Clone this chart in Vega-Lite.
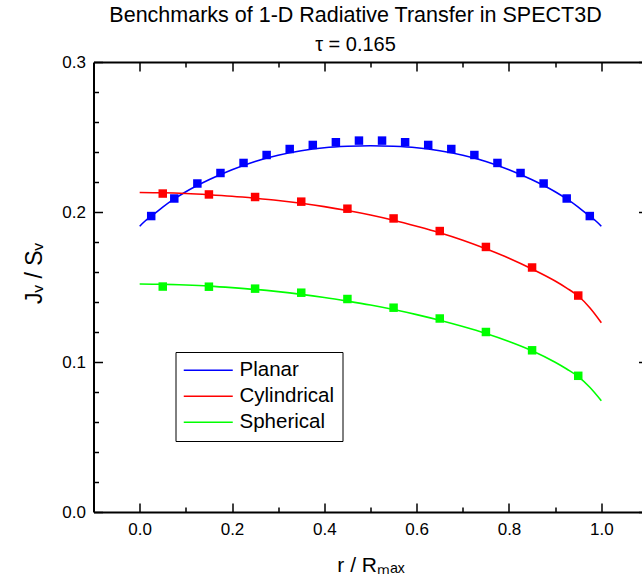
{
  "$schema": "https://vega.github.io/schema/vega-lite/v6.json",
  "width": 554,
  "height": 450,
  "autosize": {"type": "none"},
  "padding": {"left": 93.5, "top": 62, "right": 0, "bottom": 71},
  "background": "white",
  "title": {
    "text": "Benchmarks of 1-D Radiative Transfer in SPECT3D",
    "subtitle": "τ = 0.165",
    "font": "Liberation Sans",
    "subtitleFont": "Liberation Sans",
    "fontSize": 21.5,
    "subtitleFontSize": 20,
    "fontWeight": "normal",
    "color": "black",
    "subtitleColor": "black",
    "anchor": "middle",
    "offset": -2,
    "subtitlePadding": 9,
    "dx": -15
  },
  "datasets": {
    "curves": [
      {"series": "Planar", "r": 0, "j": 0.1905},
      {"series": "Planar", "r": 0.01, "j": 0.1935},
      {"series": "Planar", "r": 0.025, "j": 0.1972},
      {"series": "Planar", "r": 0.05, "j": 0.2033},
      {"series": "Planar", "r": 0.075, "j": 0.2087},
      {"series": "Planar", "r": 0.1, "j": 0.2135},
      {"series": "Planar", "r": 0.15, "j": 0.2215},
      {"series": "Planar", "r": 0.2, "j": 0.2282},
      {"series": "Planar", "r": 0.25, "j": 0.2337},
      {"series": "Planar", "r": 0.3, "j": 0.2378},
      {"series": "Planar", "r": 0.35, "j": 0.2408},
      {"series": "Planar", "r": 0.4, "j": 0.2428},
      {"series": "Planar", "r": 0.45, "j": 0.2438},
      {"series": "Planar", "r": 0.5, "j": 0.2442},
      {"series": "Planar", "r": 0.55, "j": 0.2438},
      {"series": "Planar", "r": 0.6, "j": 0.2428},
      {"series": "Planar", "r": 0.65, "j": 0.2408},
      {"series": "Planar", "r": 0.7, "j": 0.2378},
      {"series": "Planar", "r": 0.75, "j": 0.2337},
      {"series": "Planar", "r": 0.8, "j": 0.2282},
      {"series": "Planar", "r": 0.85, "j": 0.2215},
      {"series": "Planar", "r": 0.9, "j": 0.2135},
      {"series": "Planar", "r": 0.925, "j": 0.2087},
      {"series": "Planar", "r": 0.95, "j": 0.2033},
      {"series": "Planar", "r": 0.975, "j": 0.1972},
      {"series": "Planar", "r": 0.99, "j": 0.1935},
      {"series": "Planar", "r": 1.0, "j": 0.1905},
      {"series": "Cylindrical", "r": 0, "j": 0.2130},
      {"series": "Cylindrical", "r": 0.05, "j": 0.2128},
      {"series": "Cylindrical", "r": 0.1, "j": 0.2123},
      {"series": "Cylindrical", "r": 0.15, "j": 0.2115},
      {"series": "Cylindrical", "r": 0.2, "j": 0.2105},
      {"series": "Cylindrical", "r": 0.25, "j": 0.2092},
      {"series": "Cylindrical", "r": 0.3, "j": 0.2077},
      {"series": "Cylindrical", "r": 0.35, "j": 0.2058},
      {"series": "Cylindrical", "r": 0.4, "j": 0.2036},
      {"series": "Cylindrical", "r": 0.45, "j": 0.2010},
      {"series": "Cylindrical", "r": 0.5, "j": 0.1980},
      {"series": "Cylindrical", "r": 0.55, "j": 0.1945},
      {"series": "Cylindrical", "r": 0.6, "j": 0.1905},
      {"series": "Cylindrical", "r": 0.65, "j": 0.1862},
      {"series": "Cylindrical", "r": 0.7, "j": 0.1812},
      {"series": "Cylindrical", "r": 0.75, "j": 0.1755},
      {"series": "Cylindrical", "r": 0.8, "j": 0.1692},
      {"series": "Cylindrical", "r": 0.85, "j": 0.1620},
      {"series": "Cylindrical", "r": 0.9, "j": 0.1540},
      {"series": "Cylindrical", "r": 0.925, "j": 0.1493},
      {"series": "Cylindrical", "r": 0.95, "j": 0.1440},
      {"series": "Cylindrical", "r": 0.975, "j": 0.1362},
      {"series": "Cylindrical", "r": 1.0, "j": 0.1262},
      {"series": "Spherical", "r": 0, "j": 0.1520},
      {"series": "Spherical", "r": 0.05, "j": 0.1518},
      {"series": "Spherical", "r": 0.1, "j": 0.1513},
      {"series": "Spherical", "r": 0.15, "j": 0.1506},
      {"series": "Spherical", "r": 0.2, "j": 0.1496},
      {"series": "Spherical", "r": 0.25, "j": 0.1484},
      {"series": "Spherical", "r": 0.3, "j": 0.1469},
      {"series": "Spherical", "r": 0.35, "j": 0.1451},
      {"series": "Spherical", "r": 0.4, "j": 0.1430},
      {"series": "Spherical", "r": 0.45, "j": 0.1406},
      {"series": "Spherical", "r": 0.5, "j": 0.1380},
      {"series": "Spherical", "r": 0.55, "j": 0.1350},
      {"series": "Spherical", "r": 0.6, "j": 0.1316},
      {"series": "Spherical", "r": 0.65, "j": 0.1278},
      {"series": "Spherical", "r": 0.7, "j": 0.1236},
      {"series": "Spherical", "r": 0.75, "j": 0.1190},
      {"series": "Spherical", "r": 0.8, "j": 0.1137},
      {"series": "Spherical", "r": 0.85, "j": 0.1075},
      {"series": "Spherical", "r": 0.9, "j": 0.0998},
      {"series": "Spherical", "r": 0.925, "j": 0.0953},
      {"series": "Spherical", "r": 0.95, "j": 0.0903},
      {"series": "Spherical", "r": 0.975, "j": 0.0832},
      {"series": "Spherical", "r": 1.0, "j": 0.0742}
    ],
    "points": [
      {"series": "Planar", "r": 0.025, "j": 0.1973},
      {"series": "Planar", "r": 0.075, "j": 0.2090},
      {"series": "Planar", "r": 0.125, "j": 0.2190},
      {"series": "Planar", "r": 0.175, "j": 0.2260},
      {"series": "Planar", "r": 0.225, "j": 0.2327},
      {"series": "Planar", "r": 0.275, "j": 0.2380},
      {"series": "Planar", "r": 0.325, "j": 0.2420},
      {"series": "Planar", "r": 0.375, "j": 0.2447},
      {"series": "Planar", "r": 0.425, "j": 0.2465},
      {"series": "Planar", "r": 0.475, "j": 0.2476},
      {"series": "Planar", "r": 0.525, "j": 0.2476},
      {"series": "Planar", "r": 0.575, "j": 0.2465},
      {"series": "Planar", "r": 0.625, "j": 0.2447},
      {"series": "Planar", "r": 0.675, "j": 0.2420},
      {"series": "Planar", "r": 0.725, "j": 0.2380},
      {"series": "Planar", "r": 0.775, "j": 0.2327},
      {"series": "Planar", "r": 0.825, "j": 0.2260},
      {"series": "Planar", "r": 0.875, "j": 0.2190},
      {"series": "Planar", "r": 0.925, "j": 0.2090},
      {"series": "Planar", "r": 0.975, "j": 0.1973},
      {"series": "Cylindrical", "r": 0.05, "j": 0.2123},
      {"series": "Cylindrical", "r": 0.15, "j": 0.2117},
      {"series": "Cylindrical", "r": 0.25, "j": 0.2100},
      {"series": "Cylindrical", "r": 0.35, "j": 0.2069},
      {"series": "Cylindrical", "r": 0.45, "j": 0.2022},
      {"series": "Cylindrical", "r": 0.55, "j": 0.1957},
      {"series": "Cylindrical", "r": 0.65, "j": 0.1873},
      {"series": "Cylindrical", "r": 0.75, "j": 0.1767},
      {"series": "Cylindrical", "r": 0.85, "j": 0.1630},
      {"series": "Cylindrical", "r": 0.95, "j": 0.1443},
      {"series": "Spherical", "r": 0.05, "j": 0.1503},
      {"series": "Spherical", "r": 0.15, "j": 0.1502},
      {"series": "Spherical", "r": 0.25, "j": 0.1489},
      {"series": "Spherical", "r": 0.35, "j": 0.1462},
      {"series": "Spherical", "r": 0.45, "j": 0.1420},
      {"series": "Spherical", "r": 0.55, "j": 0.1362},
      {"series": "Spherical", "r": 0.65, "j": 0.1290},
      {"series": "Spherical", "r": 0.75, "j": 0.1200},
      {"series": "Spherical", "r": 0.85, "j": 0.1078},
      {"series": "Spherical", "r": 0.95, "j": 0.0908}
    ]
  },
  "layer": [
    {
      "data": {"name": "curves"},
      "mark": {"type": "line", "strokeWidth": 1.6, "interpolate": "monotone"},
      "encoding": {
        "x": {
          "field": "r", "type": "quantitative",
          "scale": {"domain": [-0.1, 1.1], "nice": false, "zero": false},
          "axis": {
            "orient": "bottom", "values": [0, 0.2, 0.4, 0.6, 0.8, 1.0], "format": ".1f",
            "tickSize": -9, "labelPadding": 18, "title": "r / Rₘₐₓ", "titlePadding": 17
          }
        },
        "y": {
          "field": "j", "type": "quantitative",
          "scale": {"domain": [0, 0.3], "nice": false, "zero": false},
          "axis": {
            "orient": "left", "values": [0, 0.1, 0.2, 0.3], "format": ".1f",
            "tickSize": -9, "labelPadding": 17, "title": "Jᵥ / Sᵥ",
            "titleX": -47, "titleY": 211, "titleFontSize": 23
          }
        },
        "color": {
          "field": "series", "type": "nominal",
          "scale": {"domain": ["Planar", "Cylindrical", "Spherical"], "range": ["#0000ff", "#ff0000", "#00ff00"]},
          "legend": {
            "orient": "none", "legendX": 82, "legendY": 290, "title": null,
            "strokeColor": "black", "fillColor": "white", "padding": 8,
            "symbolType": "M-4.9,0H4.9", "symbolSize": 100, "symbolStrokeWidth": 1.5, "symbolOffset": 14.5,
            "labelFontSize": 20.5, "labelFont": "Liberation Sans", "labelColor": "black", "labelOffset": 21,
            "rowPadding": 5
          }
        }
      }
    },
    {
      "data": {"name": "points"},
      "transform": [{"filter": "datum.series === 'Planar'"}],
      "mark": {"type": "point", "shape": "square", "filled": true, "opacity": 1, "size": 72, "color": "#0000ff"},
      "encoding": {
        "x": {"field": "r", "type": "quantitative",
          "axis": {"orient": "bottom", "values": [0.1, 0.3, 0.5, 0.7, 0.9], "tickSize": -5, "labels": false, "domain": false, "title": null}},
        "y": {"field": "j", "type": "quantitative",
          "axis": {"orient": "left", "values": [0.02, 0.04, 0.06, 0.08, 0.12, 0.14, 0.16, 0.18, 0.22, 0.24, 0.26, 0.28], "tickSize": -5, "labels": false, "domain": false, "title": null}}
      }
    },
    {
      "data": {"name": "points"},
      "transform": [{"filter": "datum.series === 'Cylindrical'"}],
      "mark": {"type": "point", "shape": "square", "filled": true, "opacity": 1, "size": 72, "color": "#ff0000"},
      "encoding": {
        "x": {"field": "r", "type": "quantitative",
          "axis": {"orient": "top", "values": [0, 0.2, 0.4, 0.6, 0.8, 1.0], "tickSize": -9, "labels": false, "title": null}},
        "y": {"field": "j", "type": "quantitative",
          "axis": {"orient": "right", "values": [0, 0.1, 0.2, 0.3], "tickSize": -9, "labels": false, "title": null}}
      }
    },
    {
      "data": {"name": "points"},
      "transform": [{"filter": "datum.series === 'Spherical'"}],
      "mark": {"type": "point", "shape": "square", "filled": true, "opacity": 1, "size": 72, "color": "#00ff00"},
      "encoding": {
        "x": {"field": "r", "type": "quantitative",
          "axis": {"orient": "top", "values": [0.1, 0.3, 0.5, 0.7, 0.9], "tickSize": -5, "labels": false, "domain": false, "title": null}},
        "y": {"field": "j", "type": "quantitative",
          "axis": {"orient": "right", "values": [0.02, 0.04, 0.06, 0.08, 0.12, 0.14, 0.16, 0.18, 0.22, 0.24, 0.26, 0.28], "tickSize": -5, "labels": false, "domain": false, "title": null}}
      }
    }
  ],
  "resolve": {"axis": {"x": "independent", "y": "independent"}},
  "config": {
    "view": {"stroke": null},
    "axis": {
      "grid": false,
      "domainColor": "black", "domainWidth": 2,
      "tickColor": "black", "tickWidth": 1.5,
      "labelColor": "black", "labelFont": "Liberation Sans", "labelFontSize": 17,
      "titleColor": "black", "titleFont": "Liberation Sans", "titleFontSize": 21, "titleFontWeight": "normal"
    }
  }
}
